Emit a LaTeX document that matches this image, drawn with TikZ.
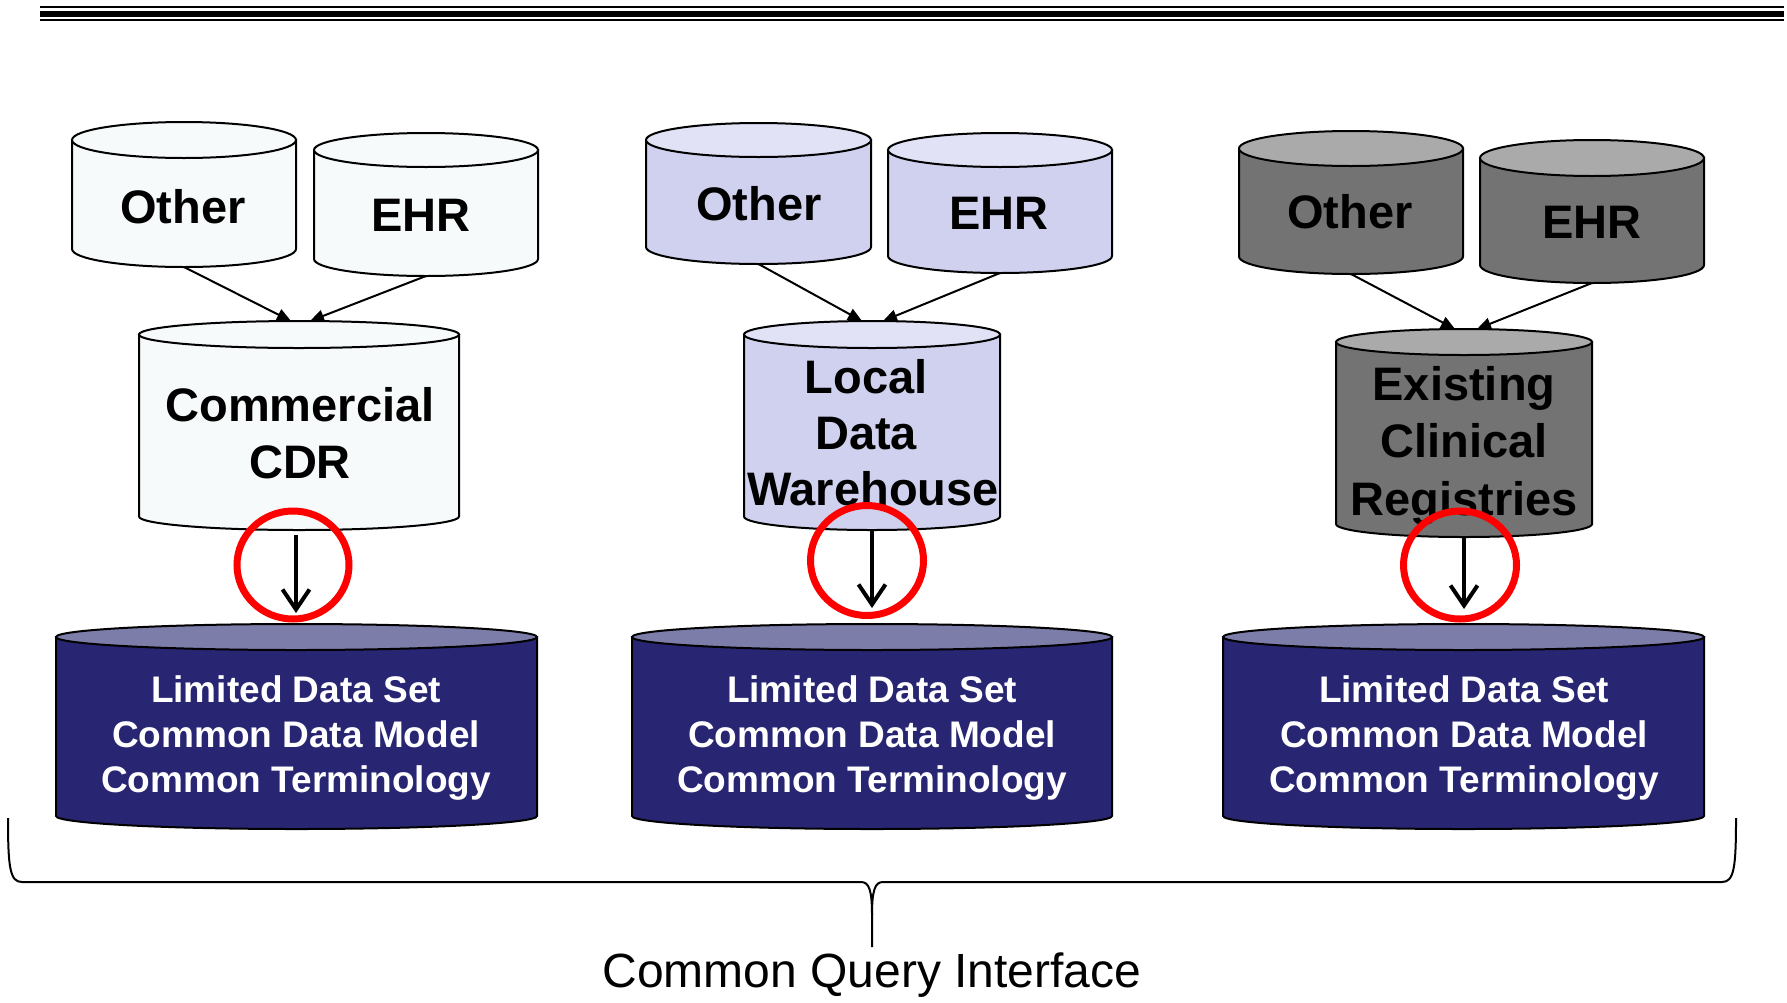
\documentclass[tikz,border=0pt]{standalone}
\usepackage{fontspec}
\setmainfont{Liberation Sans}
\usetikzlibrary{arrows.meta}

\definecolor{srcPale}{HTML}{F7FAFB}
\definecolor{srcLilac}{HTML}{D0D1EE}
\definecolor{srcLilacTop}{HTML}{E1E2F5}
\definecolor{srcGrey}{HTML}{737373}
\definecolor{srcGreyTop}{HTML}{AAAAAA}
\definecolor{ldsBody}{HTML}{282672}
\definecolor{ldsTop}{HTML}{7D7DAA}

% \dbcyl{name}{centre x}{top ellipse y}{bottom ellipse y}{x radius}{y radius}{body colour}{top colour}
\newcommand\dbcyl[8]{%
  \path[draw=black, line width=2, fill=#7]
    (#2-#5,#3) -- (#2-#5,#4) arc[start angle=180, end angle=0, x radius=#5, y radius=#6]
    -- (#2+#5,#3) -- cycle;
  \path[draw=black, line width=2, fill=#8] (#2,#3) ellipse[x radius=#5, y radius=#6];
  \coordinate (#1-top) at (#2,#3-#6);
  \coordinate (#1-bot) at (#2,#4+#6);
}

\tikzset{
  srclbl/.style={font={\fontsize{47pt}{57pt}\selectfont\bfseries}, inner sep=0pt, anchor=base},
  ldslbl/.style={font={\fontsize{37pt}{45pt}\selectfont\bfseries}, text=white, inner sep=0pt, anchor=base},
  qrylbl/.style={font={\fontsize{48pt}{58pt}\selectfont}, inner sep=0pt, anchor=base},
  feed/.style={line width=2, -{Triangle[length=14pt, width=12pt]}},
  extract/.style={line width=4, -{Straight Barb[length=20pt, width=27pt]}},
  ring/.style={draw=red, line width=7},
  brace/.style={line width=2, line join=round},
  rule/.style={line width=#1}
}

\begin{document}
\begin{tikzpicture}[x=1pt, y=-1pt]
\useasboundingbox (0,0) rectangle (1787,1002);

% header rules
\draw[rule=2.4] (40,7) -- (1784,7);
\draw[rule=5.6] (40,13.8) -- (1784,13.8);
\draw[rule=2.4] (40,20) -- (1784,20);

% ---- column 1: commercial CDR
\dbcyl{oth1}{184}{140}{249}{112}{18}{srcPale}{srcPale}
\dbcyl{ehr1}{426}{150}{259}{112}{17}{srcPale}{srcPale}
\dbcyl{cdr1}{299}{334.5}{516.5}{160}{13.5}{srcPale}{srcPale}
\dbcyl{lds1}{296.5}{637}{816}{240.5}{13}{ldsBody}{ldsTop}
\node[srclbl] (oth1t) at (183,223) {Other};
\node[srclbl] (ehr1t) at (421,231) {EHR};
\node[srclbl] (cdr1a) at (300,421) {Commercial};
\node[srclbl] (cdr1b) at (300,478) {CDR};

% ---- column 2: local data warehouse
\dbcyl{oth2}{758.5}{140}{247}{112.5}{17}{srcLilac}{srcLilacTop}
\dbcyl{ehr2}{1000}{150}{256}{112}{17}{srcLilac}{srcLilacTop}
\dbcyl{ldw2}{872}{334.5}{516.5}{128}{13.5}{srcLilac}{srcLilacTop}
\dbcyl{lds2}{872}{637}{816}{240}{13}{ldsBody}{ldsTop}
\node[srclbl] (oth2t) at (759,220) {Other};
\node[srclbl] (ehr2t) at (999,229) {EHR};
\node[srclbl] (ldw2a) at (866,393) {Local};
\node[srclbl] (ldw2b) at (866,449) {Data};
\node[srclbl] (ldw2c) at (873,505) {Warehouse};

% ---- column 3: existing clinical registries
\dbcyl{oth3}{1351}{148.5}{256.5}{112}{17.5}{srcGrey}{srcGreyTop}
\dbcyl{ehr3}{1592}{158}{265}{112}{18}{srcGrey}{srcGreyTop}
\dbcyl{reg3}{1464}{342}{524}{128}{13}{srcGrey}{srcGreyTop}
\dbcyl{lds3}{1463.5}{637}{816}{240.5}{13}{ldsBody}{ldsTop}
\node[srclbl] (oth3t) at (1350,228) {Other};
\node[srclbl] (ehr3t) at (1592,238) {EHR};
\node[srclbl] (reg3a) at (1464,400) {Existing};
\node[srclbl] (reg3b) at (1464,457) {Clinical};
\node[srclbl] (reg3c) at (1464,515) {Registries};

% limited data set labels
\foreach \c/\x in {1/296,2/872,3/1464}{
  \node[ldslbl] (lds\c a) at (\x,702) {Limited Data Set};
  \node[ldslbl] (lds\c b) at (\x,747) {Common Data Model};
  \node[ldslbl] (lds\c c) at (\x,792) {Common Terminology};
}

% feeds into the intermediate stores
\draw[feed] (oth1-bot) -- ([xshift=-8pt]cdr1-top);
\draw[feed] (ehr1-bot) -- ([xshift=11pt]cdr1-top);
\draw[feed] (oth2-bot) -- ([xshift=-10pt]ldw2-top);
\draw[feed] (ehr2-bot) -- ([xshift=11pt]ldw2-top);
\draw[feed] (oth3-bot) -- ([xshift=-9pt]reg3-top);
\draw[feed] (ehr3-bot) -- ([xshift=13pt]reg3-top);

% highlight rings
\draw[ring] (293,565) ellipse[x radius=56, y radius=54];
\draw[ring] (867,560.5) ellipse[x radius=56.5, y radius=55];
\draw[ring] (1460,565) ellipse[x radius=56.5, y radius=54];

% extraction into the limited data sets
\draw[extract, shorten <=5pt, shorten >=11pt] ([xshift=-3pt]cdr1-bot) -- ([xshift=-3pt]cdr1-bot |- lds1-top);
\draw[extract, shorten <=0pt, shorten >=16pt] (ldw2-bot) -- (ldw2-bot |- lds2-top);
\draw[extract, shorten <=0pt, shorten >=15pt] (reg3-bot) -- (reg3-bot |- lds3-top);

% brace over all three sites
\coordinate (braceTip) at (872,947);
\draw[brace] (8,818) .. controls (8,868) and (10,882) .. (22,882) -- (861,882)
  .. controls (869,882) and (872,890) .. (872,915) -- (braceTip);
\draw[brace] (1736,818) .. controls (1736,868) and (1734,882) .. (1722,882) -- (883,882)
  .. controls (875,882) and (872,890) .. (872,915);
\node[qrylbl] (cqi) at (872,987) {Common Query Interface};
\end{tikzpicture}
\end{document}
